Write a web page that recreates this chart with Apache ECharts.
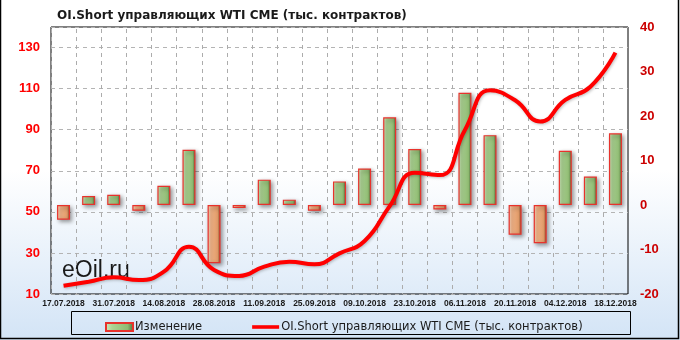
<!DOCTYPE html>
<html>
<head>
<meta charset="utf-8">
<script src="https://cdn.jsdelivr.net/npm/echarts@6/dist/echarts.min.js"></script>
<style>
html,body{margin:0;padding:0;background:#fff;}
#chart{width:680px;height:340px;}
</style>
</head>
<body>
<div id="chart"></div>
<script>
var categories = ["17.07.2018","24.07.2018","31.07.2018","07.08.2018","14.08.2018","21.08.2018","28.08.2018","04.09.2018","11.09.2018","18.09.2018","25.09.2018","02.10.2018","09.10.2018","16.10.2018","23.10.2018","30.10.2018","06.11.2018","13.11.2018","20.11.2018","27.11.2018","04.12.2018","11.12.2018","18.12.2018"];
var changeValues = [-3.3, 2.0, 2.3, -1.3, 4.3, 12.4, -13.1, -0.7, 5.7, 1.2, -1.3, 5.3, 8.2, 19.7, 12.6, -1.0, 25.2, 15.7, -6.7, -8.6, 12.2, 6.4, 16.1];
var shortValues = [14.0, 16.0, 18.1, 16.8, 20.9, 33.0, 21.7, 18.8, 23.3, 25.7, 24.5, 29.8, 35.8, 52.8, 69.0, 67.9, 89.9, 109.2, 104.3, 94.0, 104.5, 110.9, 127.5];
var leftTicks = {min: 10, max: 140, interval: 20};
var rightTicks = {min: -20, max: 40, interval: 10};
var titleText = "OI.Short управляющих WTI CME (тыс. контрактов)";
var seriesNames = ["Изменение", "OI.Short управляющих WTI CME (тыс. контрактов)"];
var watermark = "eOil.ru";

var chart = echarts.init(document.getElementById('chart'), null, {renderer: 'canvas'});
var G = echarts.graphic.LinearGradient;
var greenFill = new G(0,0,1,0,[{offset:0,color:'#d2eabf'},{offset:0.25,color:'#acd393'},{offset:0.78,color:'#8fbb72'},{offset:1,color:'#4a6534'}]);
var orangeFill = new G(0,0,1,0,[{offset:0,color:'#fde0c9'},{offset:0.25,color:'#f6b68a'},{offset:0.78,color:'#e09a68'},{offset:1,color:'#7a4224'}]);

var barData = changeValues.map(function(v){
  return {value: v, itemStyle: {color: v >= 0 ? greenFill : orangeFill}};
});
var boundaryData = categories.map(function(c, i){ return [i, leftTicks.min]; });

var gridDash = {color: '#b4b4b4', type: [4,4], width: 1};

var option = {
  animation: false,
  backgroundColor: new G(0,0,0,1,[{offset:0,color:'#ffffff'},{offset:0.5,color:'#ffffff'},{offset:1,color:'#d3e4f6'}]),
  title: {
    text: titleText, left: 52, top: 5,
    textStyle: {fontFamily: 'DejaVu Sans', fontWeight: 'bold', fontSize: 12, color: '#1a1a1a'}
  },
  grid: {left: 51, right: 52, top: 27, bottom: 46, show: true, borderColor: '#000', borderWidth: 1, backgroundColor: 'transparent'},
  legend: {
    left: 100, top: 316, itemGap: 50, itemWidth: 27, itemHeight: 8,
    textStyle: {fontFamily: 'DejaVu Sans', fontSize: 11.5, color: '#1a1a1a', padding: [0,0,0,-3]},
    data: [
      {name: seriesNames[0], icon: 'rect'},
      {name: seriesNames[1], icon: 'path://M0,0 L30,0 L30,4 L0,4 Z', itemStyle: {color: '#ff0000', borderWidth: 0}}
    ]
  },
  xAxis: {
    type: 'category', data: categories, boundaryGap: true,
    axisLine: {show: false}, axisTick: {show: false},
    axisLabel: {interval: 1, margin: 5, fontFamily: 'Liberation Sans', fontWeight: 'bold', fontSize: 8.5, color: '#1a1a1a'},
    splitLine: {show: false}
  },
  yAxis: [
    {type: 'value', min: leftTicks.min, max: leftTicks.max, interval: leftTicks.interval, position: 'left',
     axisLine: {show: false}, axisTick: {show: false},
     axisLabel: {showMaxLabel: false, margin: 11, fontFamily: 'Liberation Sans', fontWeight: 'bold', fontSize: 13, color: '#ff0000'},
     splitLine: {show: true, lineStyle: gridDash}},
    {type: 'value', min: rightTicks.min, max: rightTicks.max, interval: rightTicks.interval, position: 'right',
     axisLine: {show: false}, axisTick: {show: false},
     axisLabel: {margin: 12, fontFamily: 'Liberation Sans', fontWeight: 'bold', fontSize: 13, color: '#cc0000'},
     splitLine: {show: false}}
  ],
  graphic: [
    {type: 'text', left: 62, top: 259, style: {text: watermark, font: '23px "Liberation Sans"', fill: '#1a1a1a'}, z: 1},
    {type: 'rect', shape: {x: 71.5, y: 311.5, width: 559, height: 23}, style: {fill: 'transparent', stroke: '#000', lineWidth: 1}, z: 0},
    {type: 'polyline', shape: {points: [[0.5,0],[0.5,338.5],[678.5,338.5],[678.5,0]]}, style: {fill: 'none', stroke: '#000', lineWidth: 1.5}, z: 0}
  ],
  series: [
    {name: 'grid-v', type: 'custom', xAxisIndex: 0, yAxisIndex: 0, silent: true, z: 1,
     data: boundaryData,
     renderItem: function(params, api){
       var i = api.value(0);
       var w = api.size([1, 0])[0];
       var x = Math.round(api.coord([i, leftTicks.min])[0] - w / 2) + 0.5;
       var cs = params.coordSys;
       var segs = [];
       for (var y = cs.y + 2; y < cs.y + cs.height; y += 8) {
         segs.push({type: 'line', shape: {x1: x, y1: y, x2: x, y2: Math.min(y + 4, cs.y + cs.height)},
                    style: {stroke: '#acacac', lineWidth: 1}});
       }
       return {type: 'group', children: segs};
     }},
    {name: seriesNames[0], type: 'bar', xAxisIndex: 0, yAxisIndex: 1, barWidth: 13, data: barData,
     itemStyle: {color: greenFill, borderColor: '#e8322c', borderWidth: 1.2, shadowColor: 'rgba(0,0,0,0.4)', shadowBlur: 4, shadowOffsetX: 2, shadowOffsetY: 2},
     z: 2},
    {name: seriesNames[1], type: 'line', xAxisIndex: 0, yAxisIndex: 0, data: shortValues, smooth: 0.5, symbol: 'none', showSymbol: false,
     lineStyle: {color: '#ff0000', width: 4, shadowColor: 'rgba(0,0,0,0.25)', shadowBlur: 3, shadowOffsetX: 1, shadowOffsetY: 1},
     itemStyle: {color: '#ff0000'}, z: 3}
  ]
};
chart.setOption(option);
</script>
</body>
</html>
